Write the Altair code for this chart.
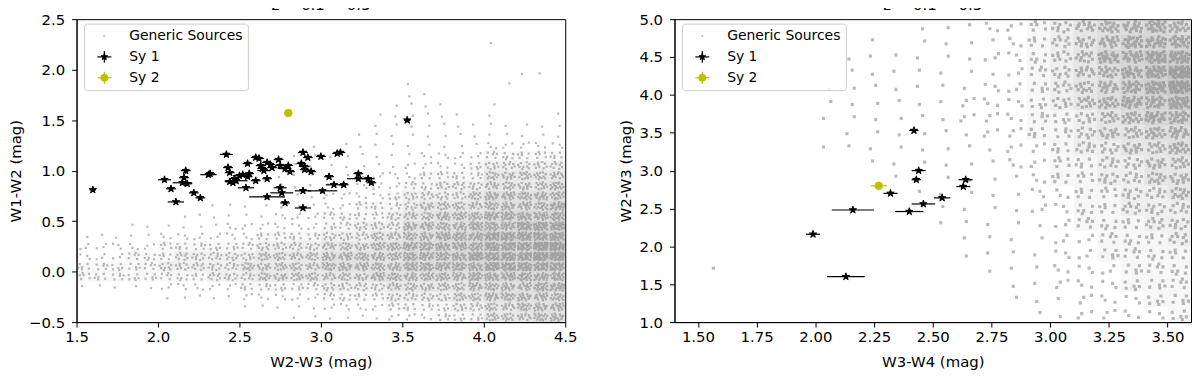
import altair as alt
import pandas as pd

FONT = "DejaVu Sans"
SY2_COLOR = "#bfbf00"
CLOUD_COLOR = "#808080"
STAR = ("M0,-1L0.2245,-0.309L0.951,-0.309L0.363,0.118L0.588,0.809L0,0.382"
        "L-0.588,0.809L-0.363,0.118L-0.951,-0.309L-0.2245,-0.309Z")

TITLE = "z = 0.1 − 0.3"

# ---------------- Left panel data (W2-W3 vs W1-W2) ----------------
# Generic sources: density (0-9), cells of 0.1 x 0.1 mag,
# columns start at W2-W3 = 1.5, rows listed from W1-W2 = 2.4 (top) down to -0.5
LEFT_GRID_X0, LEFT_GRID_DX = 1.5, 0.1
LEFT_GRID_YTOP, LEFT_GRID_DY = 2.4, 0.1
LEFT_DENSITY = [
    "000000000000000000000000000000",  # 2.4
    "000000000000000000000000000000",  # 2.3
    "000000000000000000000000010000",  # 2.2
    "000000000000000000000000000000",  # 2.1
    "000000000000000000000000000000",  # 2.0
    "000000000000000000000000000110",  # 1.9
    "000000000000000000001000001000",  # 1.8
    "000000000000000000001100000000",  # 1.7
    "000000000000000000011110010000",  # 1.6
    "000000000000000000111111010001",  # 1.5
    "000000000000000000111111111111",  # 1.4
    "000000000000000001111111111111",  # 1.3
    "000000000000001011111111122222",  # 1.2
    "000000000000011111111222233333",  # 1.1
    "000000000000011111112222344444",  # 1.0
    "000000000000111111222333355555",  # 0.9
    "000000000000111112223344455556",  # 0.8
    "000000000001111222234444566666",  # 0.7
    "000000001111111223334555566667",  # 0.6
    "000000111111222333345566677777",  # 0.5
    "000111111222222334446666777888",  # 0.4
    "111112222223333444556677788888",  # 0.3
    "222223333334444555667777788899",  # 0.2
    "222333444445555666667777888899",  # 0.1
    "333334444455555666667777788888",  # 0.0
    "333333334445555555666666777777",  # -0.1
    "111112222233333444455555666677",  # -0.2
    "000001111122222333344445566666",  # -0.3
    "000000000011111222233334455666",  # -0.4
    "000000000000011111122233355566",  # -0.5
]

# Sy 1 (x = W2-W3, y = W1-W2, with errors)
L_SY1_X = [1.60, 2.04, 2.08, 2.11, 2.17, 2.16, 2.15, 2.18, 2.22, 2.26,
           2.31, 2.32, 2.42, 2.43, 2.44, 2.44, 2.46, 2.48, 2.47, 2.50,
           2.52, 2.54, 2.55, 2.56, 2.55, 2.60, 2.62, 2.60, 2.63, 2.64,
           2.65, 2.67, 2.69, 2.70, 2.67, 2.74, 2.75, 2.78, 2.80, 2.81,
           2.75, 2.76, 2.67, 2.78, 2.89, 2.92, 2.88, 2.90, 2.90, 2.94,
           3.00, 2.89, 2.89, 3.01, 3.05, 3.08, 3.10, 3.12, 3.14, 3.23,
           3.23, 3.29, 3.31, 3.53]
L_SY1_Y = [0.81, 0.91, 0.82, 0.69, 1.00, 0.93, 0.88, 0.87, 0.78, 0.73,
           0.96, 0.97, 1.16, 1.03, 0.98, 0.89, 0.88, 0.90, 0.92, 0.95,
           0.96, 0.83, 1.07, 0.97, 0.94, 1.13, 1.12, 0.90, 1.05, 1.02,
           1.00, 1.08, 1.06, 1.03, 0.92, 1.11, 1.05, 1.02, 1.05, 0.99,
           0.83, 0.78, 0.74, 0.68, 1.18, 1.13, 1.07, 1.04, 1.01, 0.99,
           1.14, 0.80, 0.63, 0.80, 0.94, 0.86, 1.17, 1.18, 0.86, 0.97,
           0.92, 0.92, 0.88, 1.50]
L_SY1_XERR = [0.02, 0.04, 0.03, 0.05, 0.03, 0.03, 0.06, 0.03, 0.03, 0.03,
              0.05, 0.03, 0.04, 0.03, 0.03, 0.03, 0.03, 0.07, 0.03, 0.04,
              0.03, 0.05, 0.03, 0.03, 0.03, 0.03, 0.03, 0.03, 0.03, 0.03,
              0.04, 0.03, 0.03, 0.03, 0.03, 0.03, 0.03, 0.04, 0.03, 0.03,
              0.04, 0.07, 0.11, 0.03, 0.03, 0.03, 0.03, 0.03, 0.03, 0.03,
              0.03, 0.05, 0.05, 0.09, 0.03, 0.05, 0.03, 0.03, 0.03, 0.03,
              0.07, 0.04, 0.03, 0.02]
L_SY1_YERR = [0.02] * 4 + [0.03] + [0.02] * 59

L_SY2_X, L_SY2_Y, L_SY2_XERR, L_SY2_YERR = [2.80], [1.57], [0.02], [0.02]

# ---------------- Right panel data (W3-W4 vs W2-W3) ----------------
# Generic sources density, cells of 0.1 (x) x 0.2 (y) mag,
# columns start at W3-W4 = 1.4, rows from W2-W3 = 4.8 (top) down to 1.0
RIGHT_GRID_X0, RIGHT_GRID_DX = 1.4, 0.1
RIGHT_GRID_YTOP, RIGHT_GRID_DY = 4.8, 0.2
RIGHT_DENSITY = [
    "0000000000111223456676",  # 4.8
    "0000000010111123456777",  # 4.6
    "0000000111111223457788",  # 4.4
    "0000000111111123456789",  # 4.2
    "0000001111111223456789",  # 4.0
    "0000001111112223456778",  # 3.8
    "0000001111112223345677",  # 3.6
    "0000000111111223345566",  # 3.4
    "0000001111111122344556",  # 3.2
    "0000000011111122334455",  # 3.0
    "0000000001111112334455",  # 2.8
    "0000000000111112233445",  # 2.6
    "0000000000011112233444",  # 2.4
    "0000000000011111233344",  # 2.2
    "0000000000001111223334",  # 2.0
    "0000000000001111223333",  # 1.8
    "0100000000000111222333",  # 1.6
    "0000000000000011222333",  # 1.4
    "0000000000000011122233",  # 1.2
    "0000000000000001122223",  # 1.0
]

R_SY1_X = [2.42, 2.44, 2.43, 2.64, 2.63, 2.32, 2.54, 2.46, 2.40, 2.16, 1.99, 2.13]
R_SY1_Y = [3.53, 3.00, 2.88, 2.88, 2.79, 2.70, 2.64, 2.56, 2.46, 2.48, 2.16, 1.60]
R_SY1_XERR = [0.02, 0.03, 0.02, 0.03, 0.03, 0.03, 0.035, 0.05, 0.06, 0.09, 0.03, 0.08]
R_SY1_YERR = [0.02] * 12

R_SY2_X, R_SY2_Y, R_SY2_XERR, R_SY2_YERR = [2.27], [2.80], [0.035], [0.04]

# ---------------- Style: stipple texture used to draw each density cell ----------------
STIPPLE_UV = [(0.32, 0.58), (0.15, 0.20), (0.80, 0.75), (0.30, 0.85), (0.70, 0.15),
              (0.05, 0.65), (0.92, 0.35), (0.40, 0.30), (0.60, 0.95), (0.22, 0.45),
              (0.85, 0.55), (0.55, 0.70), (0.10, 0.95), (0.35, 0.05), (0.75, 0.40),
              (0.45, 0.60), (0.95, 0.90), (0.02, 0.30), (0.65, 0.30), (0.25, 0.65),
              (0.88, 0.08), (0.52, 0.15), (0.18, 0.80), (0.70, 0.60), (0.38, 0.95),
              (0.97, 0.65), (0.12, 0.50), (0.62, 0.05), (0.80, 0.95), (0.48, 0.82),
              (0.06, 0.08), (0.27, 0.30), (0.58, 0.45), (0.90, 0.22), (0.16, 0.62),
              (0.44, 0.40), (0.66, 0.86), (0.83, 0.64), (0.33, 0.72), (0.76, 0.02)]
LEVEL_DOTS_LEFT = [0, 1, 3, 6, 9, 12, 16, 20, 25, 30]
LEVEL_DOTS_RIGHT = [0, 1, 4, 8, 13, 18, 23, 29, 34, 40]
N_VARIANTS = 8


def stipple_path(n, dot, half_h, variant):
    parts = []
    for (u, v) in STIPPLE_UV[:n]:
        if variant & 4:
            u, v = v, u
        if variant & 1:
            u = 1 - u
        if variant & 2:
            v = 1 - v
        px = (-1 + 2 * u) * (1 - dot / 2)
        py = (-1 + 2 * v) * (half_h - dot / 2)
        parts.append(f"M{px - dot / 2:.3f},{py - dot / 2:.3f}h{dot:.3f}v{dot:.3f}h{-dot:.3f}Z")
    return "".join(parts)


def cloud_table(rows, x0, dx, ytop, dy):
    recs = []
    for r, row in enumerate(rows):
        ylo = ytop - dy * r
        for c, ch in enumerate(row):
            d = int(ch)
            if d:
                recs.append({"x0": x0 + dx * c, "x1": x0 + dx * (c + 1),
                             "y0": ylo, "y1": ylo + dy,
                             "xc": x0 + dx * (c + 0.5), "yc": ylo + dy / 2,
                             "d": d, "key": f"{d}-{(r * 5 + c * 3) % N_VARIANTS}"})
    return pd.DataFrame(recs)


def pts_table(xs, ys, xe, ye):
    return pd.DataFrame({"x": xs, "y": ys, "xe": xe, "ye": ye})


ONE = pd.DataFrame({"k": [0]})


def panel(cloud, sy1, sy2, xdom, ydom, xticks, yticks, xfmt, yfmt,
          xtitle, ytitle, w, h, cell_w, cell_h, tone_k, dot_px, level_dots):
    xscale = alt.Scale(domain=xdom, nice=False, zero=False)
    yscale = alt.Scale(domain=ydom, nice=False, zero=False)
    xaxis = alt.Axis(values=xticks, format=xfmt, title=xtitle, labelFlush=False)
    yaxis = alt.Axis(values=yticks, format=yfmt, title=ytitle, labelFlush=False)

    def X(f):
        return alt.X(f, type="quantitative", scale=xscale, axis=xaxis)

    def Y(f):
        return alt.Y(f, type="quantitative", scale=yscale, axis=yaxis)

    # tone underlay (only for the denser cells)
    tone = alt.Chart(cloud).transform_filter("datum.d >= 3").transform_calculate(
        op=f"(datum.d - 2) * {tone_k}").mark_rect(
        fill=CLOUD_COLOR, strokeWidth=0
    ).encode(x=X("x0"), x2="x1", y=Y("y0"), y2="y1",
             opacity=alt.Opacity("op:Q", scale=None, legend=None))
    # dotted texture
    dot = dot_px / (cell_w / 2)
    half_h = cell_h / cell_w
    keys, paths = [], []
    for d in range(1, 10):
        for f in range(N_VARIANTS):
            keys.append(f"{d}-{f}")
            paths.append(stipple_path(level_dots[d], dot, half_h, f))
    stip = alt.Chart(cloud).mark_point(filled=True, color=CLOUD_COLOR, opacity=0.55,
                                       strokeWidth=0, size=cell_w * cell_w).encode(
        x=X("xc"), y=Y("yc"),
        shape=alt.Shape("key:N", scale=alt.Scale(domain=keys, range=paths), legend=None))

    def err_layers(df, color, shape, size):
        base = alt.Chart(df).transform_calculate(
            xlo="datum.x - datum.xe", xhi="datum.x + datum.xe",
            ylo="datum.y - datum.ye", yhi="datum.y + datum.ye")
        ex = base.mark_rule(color=color, strokeWidth=1.2).encode(
            x=X("xlo"), x2="xhi", y=Y("y"))
        ey = base.mark_rule(color=color, strokeWidth=1.2).encode(
            x=X("x"), y=Y("ylo"), y2="yhi")
        pt = base.mark_point(shape=shape, filled=True, fill=color, stroke=color,
                             strokeWidth=1.0, size=size, opacity=1).encode(
            x=X("x"), y=Y("y"))
        return [ex, ey, pt]

    layers = [tone, stip] + err_layers(sy1, "black", STAR, 60) + \
        err_layers(sy2, SY2_COLOR, "circle", 58)

    # legend (drawn inside the plot, upper left)
    lg = alt.Chart(ONE)
    layers.append(lg.mark_rect(fill="white", fillOpacity=0.8, stroke="#cccccc",
                               strokeWidth=1, cornerRadius=3).encode(
        x=alt.value(8), x2=alt.value(173), y=alt.value(5), y2=alt.value(72)))
    layers.append(lg.mark_point(filled=True, size=5, color=CLOUD_COLOR, opacity=0.5).encode(
        x=alt.value(28), y=alt.value(17)))
    for yy, col, shp, sz in [(38, "black", STAR, 50), (59, SY2_COLOR, "circle", 52)]:
        layers.append(lg.mark_rule(color=col, strokeWidth=1.2).encode(
            x=alt.value(21), x2=alt.value(35), y=alt.value(yy)))
        layers.append(lg.mark_rule(color=col, strokeWidth=1.2).encode(
            x=alt.value(28), y=alt.value(yy - 6), y2=alt.value(yy + 6)))
        layers.append(lg.mark_point(shape=shp, filled=True, fill=col, stroke=col,
                                    strokeWidth=1.0, size=sz, opacity=1).encode(
            x=alt.value(28), y=alt.value(yy)))
    for yy, txt in [(17, "Generic Sources"), (38, "Sy 1"), (59, "Sy 2")]:
        layers.append(lg.mark_text(align="left", baseline="middle", fontSize=14,
                                   font=FONT, color="black", text=txt).encode(
            x=alt.value(53), y=alt.value(yy)))

    return alt.layer(*layers).properties(
        width=w, height=h,
        title=alt.TitleParams(TITLE, fontSize=15, font=FONT, fontWeight="normal",
                              offset=-1, color="black"))


left = panel(
    cloud_table(LEFT_DENSITY, LEFT_GRID_X0, LEFT_GRID_DX, LEFT_GRID_YTOP, LEFT_GRID_DY),
    pts_table(L_SY1_X, L_SY1_Y, L_SY1_XERR, L_SY1_YERR),
    pts_table(L_SY2_X, L_SY2_Y, L_SY2_XERR, L_SY2_YERR),
    [1.5, 4.5], [-0.5, 2.5],
    [1.5, 2.0, 2.5, 3.0, 3.5, 4.0, 4.5], [-0.5, 0.0, 0.5, 1.0, 1.5, 2.0, 2.5],
    ".1f", ".1f", "W2-W3 (mag)", "W1-W2 (mag)", 492, 305,
    492 * LEFT_GRID_DX / 3.0, 305 * LEFT_GRID_DY / 3.0, 0.06, 2.2, LEVEL_DOTS_LEFT)

right = panel(
    cloud_table(RIGHT_DENSITY, RIGHT_GRID_X0, RIGHT_GRID_DX, RIGHT_GRID_YTOP, RIGHT_GRID_DY),
    pts_table(R_SY1_X, R_SY1_Y, R_SY1_XERR, R_SY1_YERR),
    pts_table(R_SY2_X, R_SY2_Y, R_SY2_XERR, R_SY2_YERR),
    [1.4, 3.6], [1.0, 5.0],
    [1.5, 1.75, 2.0, 2.25, 2.5, 2.75, 3.0, 3.25, 3.5],
    [1.0, 1.5, 2.0, 2.5, 3.0, 3.5, 4.0, 4.5, 5.0],
    ".2f", ".1f", "W3-W4 (mag)", "W2-W3 (mag)", 520, 305,
    520 * RIGHT_GRID_DX / 2.2, 305 * RIGHT_GRID_DY / 4.0, 0.065, 2.3, LEVEL_DOTS_RIGHT)

chart = alt.hconcat(left, right, spacing=110, bounds="flush").configure(
    font=FONT,
    padding={"left": 0, "top": -12, "right": 0, "bottom": 0},
).configure_view(
    stroke="black", strokeWidth=1
).configure_axis(
    grid=False, domainColor="black", tickColor="black", tickSize=5,
    domainWidth=1, tickWidth=1,
    labelFont=FONT, labelFontSize=15, labelColor="black",
    titleFont=FONT, titleFontSize=15, titleColor="black", titleFontWeight="normal",
).configure_axisX(
    labelPadding=3, titlePadding=10
).configure_axisY(
    labelPadding=7, titlePadding=5
)

chart.save("out.html", embed_options={"renderer": "svg", "actions": False})
